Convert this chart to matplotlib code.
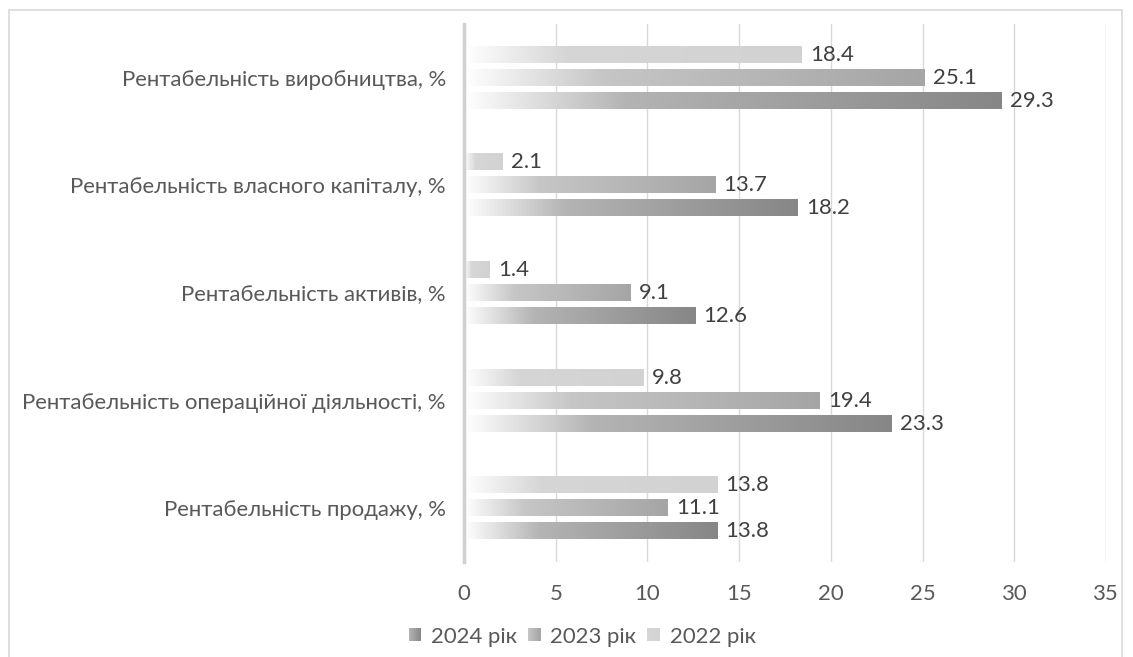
import matplotlib.pyplot as plt
import numpy as np
from matplotlib.colors import LinearSegmentedColormap
from matplotlib.legend_handler import HandlerBase
from matplotlib.patches import Rectangle

plt.rcParams["font.family"] = ["Lato", "DejaVu Sans"]

categories = [
    "Рентабельність продажу, %",
    "Рентабельність операційної діяльності, %",
    "Рентабельність активів, %",
    "Рентабельність власного капіталу, %",
    "Рентабельність виробництва, %",
]
years = ["2024 рік", "2023 рік", "2022 рік"]
v2024 = [13.8, 23.3, 12.6, 18.2, 29.3]
v2023 = [11.1, 19.4, 9.1, 13.7, 25.1]
v2022 = [13.8, 9.8, 1.4, 2.1, 18.4]

# white -> tint -> base, stretched over each bar
cmaps = [
    LinearSegmentedColormap.from_list("g24", [(0, "#ffffff"), (0.3, "#b4b4b4"), (1, "#868686")]),
    LinearSegmentedColormap.from_list("g23", [(0, "#ffffff"), (0.3, "#c6c6c6"), (1, "#a5a5a5")]),
    LinearSegmentedColormap.from_list("g22", [(0, "#ffffff"), (0.3, "#d6d6d6"), (1, "#d2d2d2")]),
]
offsets = [-0.214, 0.0, 0.214]
bar_h = 0.15
fs = 15.9


class GradientHandler(HandlerBase):
    def __init__(self, cmap):
        super().__init__()
        self.cmap = cmap

    def create_artists(self, legend, orig_handle, xdescent, ydescent,
                       width, height, fontsize, trans):
        n = 12
        arts = []
        for i in range(n):
            r = Rectangle((-xdescent + i * width / n, -ydescent), width / n + 0.05, height,
                          facecolor=self.cmap(0.3 + 0.7 * (i + 0.5) / n), lw=0, transform=trans)
            arts.append(r)
        return arts


fig = plt.figure(figsize=(11.33, 6.57), dpi=100)
ax = fig.add_axes([0.4095, 0.1446, 0.5667, 0.8189])

grad = np.linspace(0, 1, 256).reshape(1, -1)
for vals, cmap, off in zip([v2024, v2023, v2022], cmaps, offsets):
    for i, v in enumerate(vals):
        y = i + off
        ax.imshow(grad, extent=[0, v, y - bar_h / 2, y + bar_h / 2], aspect="auto",
                  cmap=cmap, vmin=0, vmax=1, zorder=2, interpolation="bilinear")
        ax.text(v + 0.45, y, f"{v:.1f}", va="center", ha="left",
                fontsize=fs, color="#404040", zorder=3)

ax.set_xlim(0, 35)
ax.set_ylim(-0.5, 4.5)
ax.set_xticks(np.arange(0, 36, 5))
ax.set_yticks(range(len(categories)))
ax.set_yticklabels(categories)
ax.tick_params(axis="y", length=0, pad=13, labelsize=fs, labelcolor="#595959")
ax.tick_params(axis="x", length=0, pad=16, labelsize=fs, labelcolor="#595959")
ax.grid(axis="x", color="#d9d9d9", lw=1, zorder=0)
ax.set_axisbelow(True)
for s in ["top", "right", "bottom"]:
    ax.spines[s].set_visible(False)
ax.spines["left"].set_color("#d0d0d0")
ax.spines["left"].set_linewidth(2.5)

handles = [Rectangle((0, 0), 1, 1) for _ in years]
fig.legend(handles, years, loc="center", bbox_to_anchor=(0.514, 0.031), ncol=3,
           frameon=False, fontsize=fs, labelcolor="#595959",
           handlelength=0.55, handleheight=0.55, handletextpad=0.45, columnspacing=0.5,
           handler_map={h: GradientHandler(c) for h, c in zip(handles, cmaps)})

fig.patches.append(Rectangle((9 / 1133, -0.01), 1113 / 1133, 1 - 10 / 657 + 0.01,
                             transform=fig.transFigure, fill=False,
                             edgecolor="#d9d9d9", lw=1.2))

fig.savefig("out.png", dpi=100)
